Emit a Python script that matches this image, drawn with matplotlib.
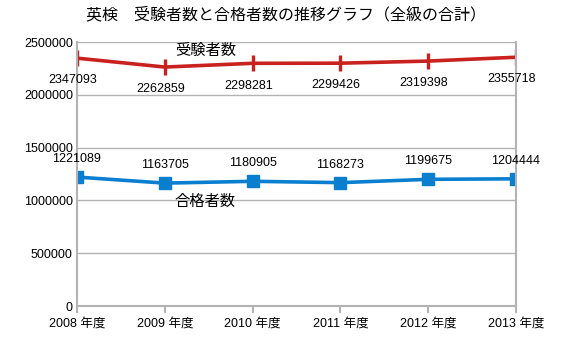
import matplotlib
matplotlib.use("Agg")
import matplotlib.pyplot as plt

plt.rcParams['font.family'] = ['Liberation Sans', 'Noto Sans CJK JP']

years = ['2008 年度', '2009 年度', '2010 年度', '2011 年度', '2012 年度', '2013 年度']
applicants = [2347093, 2262859, 2298281, 2299426, 2319398, 2355718]
passed = [1221089, 1163705, 1180905, 1168273, 1199675, 1204444]
yticks = [0, 500000, 1000000, 1500000, 2000000, 2500000]

red = '#c9211e'
blue = '#0a7fd0'
grid = '#b3b3b3'

fig = plt.figure(figsize=(5.72, 3.53), dpi=100)
ax = fig.add_axes([0.1346, 0.1331, 0.7674, 0.7479])

x = list(range(len(years)))
ax.plot(x, applicants, color=red, lw=2.6, marker='|', ms=12, mew=2.4)
ax.plot(x, passed, color=blue, lw=2.6, marker='s', ms=8.5)

for xi, v in zip(x, applicants):
    ax.annotate(str(v), (xi, v), xytext=(-3, -16), textcoords='offset points',
                ha='center', va='center', fontsize=9)
for xi, v in zip(x, passed):
    ax.annotate(str(v), (xi, v), xytext=(0, 13), textcoords='offset points',
                ha='center', va='center', fontsize=9)

ax.text(1.47, 2420000, '受験者数', ha='center', va='center', fontsize=11)
ax.text(1.46, 990000, '合格者数', ha='center', va='center', fontsize=11)

ax.set_xlim(0, 5)
ax.set_ylim(0, 2500000)
ax.set_yticks(yticks)
ax.set_yticklabels([str(t) for t in yticks])
ax.set_xticks(x)
ax.set_xticklabels(years)
ax.tick_params(axis='y', length=0, labelsize=9, pad=3)
ax.tick_params(axis='x', length=5, color=grid, width=1.5, labelsize=9, pad=3)
ax.yaxis.grid(True, color=grid, lw=1)
ax.set_axisbelow(True)
ax.spines['top'].set_visible(False)
for s in ['left', 'right', 'bottom']:
    ax.spines[s].set_color(grid)
    ax.spines[s].set_linewidth(1.5)

fig.text(0.5, 0.96, '英検\u3000受験者数と合格者数の推移グラフ（全級の合計）',
         ha='center', va='center', fontsize=11.5)

fig.savefig('out.png', dpi=100)
